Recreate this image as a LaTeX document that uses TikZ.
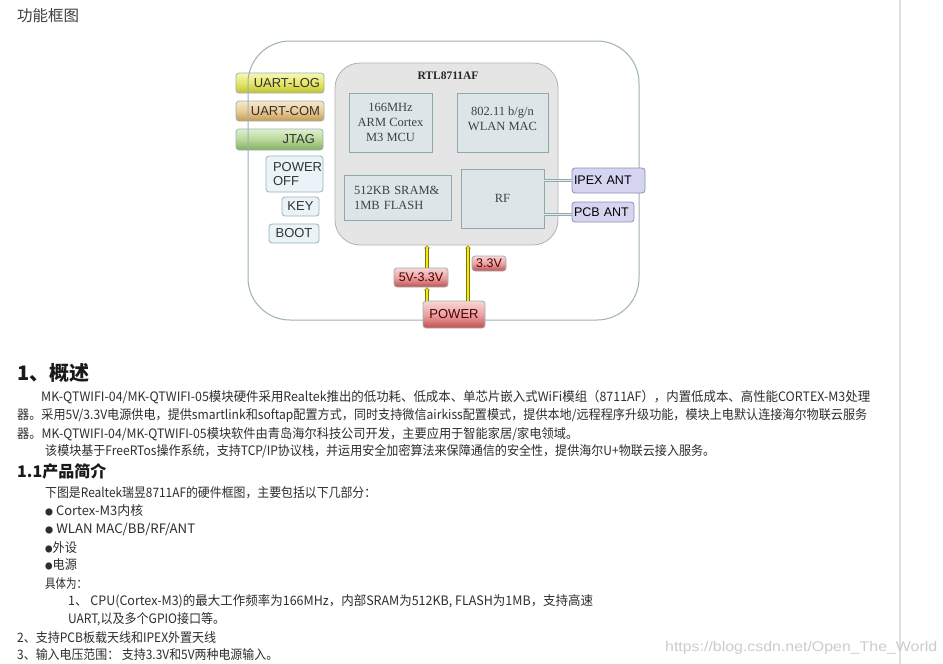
\documentclass[tikz,border=0pt]{standalone}
\usepackage{fontspec}
\setmainfont{Liberation Sans}
\newfontfamily\cjk{Noto Sans CJK SC}
\newfontfamily\serifrm{Liberation Serif}
\usetikzlibrary{arrows.meta}
\newcommand\fitw[2]{\resizebox{#1pt}{\height}{#2}}
\newcommand\bul{{\fontsize{8}{8}\selectfont ●}}
\definecolor{txt}{HTML}{2E2E2E}
\definecolor{bord}{HTML}{9DB2B3}
\definecolor{chipfill}{HTML}{DCE6E8}
\definecolor{chipbord}{HTML}{8FA9AB}
\definecolor{lav}{HTML}{D5D5F1}
\definecolor{lavb}{HTML}{8E8EB8}
\definecolor{lightb}{HTML}{EAF4F8}
\definecolor{ylt}{HTML}{F7F7B8}
\definecolor{ymd}{HTML}{E6E66A}
\definecolor{ybt}{HTML}{C2C232}
\definecolor{olt}{HTML}{F8E8CC}
\definecolor{omd}{HTML}{EACB98}
\definecolor{obt}{HTML}{C49A55}
\definecolor{glt}{HTML}{E0F0CE}
\definecolor{gmd}{HTML}{B8D89A}
\definecolor{gbt}{HTML}{82AE5E}
\definecolor{rlt}{HTML}{F8D6D6}
\definecolor{rmd}{HTML}{EAA2A2}
\definecolor{rbt}{HTML}{C25050}
\begin{document}
\begin{tikzpicture}[x=1pt,y=-1pt,
  para/.style={inner sep=0pt, anchor=west, text=txt, font=\cjk\fontsize{13}{13}\selectfont},
  chip/.style={draw=chipbord, fill=chipfill, line width=0.8pt, inner sep=0pt, text=black!75,
    font=\serifrm\fontsize{12.5}{15}\selectfont, align=center},
  lbl/.style={draw=bord, line width=0.8pt, rounded corners=3pt, inner sep=0pt, text=black!80,
    font=\fontsize{13}{14}\selectfont},
  ylw/.style={lbl, top color=ylt, bottom color=ybt, middle color=ymd},
  org/.style={lbl, top color=olt, bottom color=obt, middle color=omd},
  grn/.style={lbl, top color=glt, bottom color=gbt, middle color=gmd},
  blu/.style={lbl, fill=lightb},
  red/.style={lbl, top color=rlt, bottom color=rbt, middle color=rmd, text=red!30!black},
  ant/.style={lbl, fill=lav, draw=lavb, text=black},
  antl/.style={draw=chipbord, double=chipfill!70!white, double distance=1.8pt, line width=0.8pt},
  pwro/.style={draw=olive!85!black, line width=3.4pt, -{Triangle[width=6pt,length=3pt]}},
  pwri/.style={draw=yellow!95!black, line width=1.6pt, shorten >=0.8pt, -{Triangle[width=3.2pt,length=1.8pt]}}
]
\useasboundingbox (0,0) rectangle (943,664);
\fill[white] (0,0) rectangle (943,664);
\coordinate (dtop) at (900,0);
\coordinate (dbot) at (900,664);
\draw[black!12, line width=1.5pt] (dtop) -- (dbot);

\node[para, text=black!75, font=\cjk\fontsize{15.5}{15.5}\selectfont] (title) at (17,16) {功能框图};

% left signal boxes (under the outer frame)
\node[ylw, text width=80pt, inner xsep=4pt, minimum height=20pt, align=right] (ulog) at (280,83) {UART-LOG};
\node[org, text width=80pt, inner xsep=4pt, minimum height=20pt, align=right] (ucom) at (280,111) {UART-COM};
\node[grn, text width=71pt, inner xsep=8pt, minimum height=21pt, align=right] (jtag) at (279.5,139.5) {JTAG};

% outer frame
\node[draw=bord, line width=1pt, rounded corners=42pt, minimum width=391pt, minimum height=279pt] (outer) at (443.5,180.5) {};

% chip
\node[draw=black!30, fill=black!10, line width=0.8pt, rounded corners=25pt, minimum width=223pt, minimum height=182pt] (inner) at (446.5,154) {};
\node[inner sep=0pt, font=\serifrm\bfseries\fontsize{11.5}{12}\selectfont, text=black!85] (rtl) at (448,76) {RTL8711AF};
\node[chip, minimum width=83pt, minimum height=59pt] (cpu) at (390.5,122.5) {166MHz\\ARM Cortex\\M3 MCU};
\node[chip, minimum width=91pt, minimum height=59pt] (wlan) at (502.5,122.5) {};
\node[inner sep=0pt, text=black!75, font=\serifrm\fontsize{12.5}{15}\selectfont, align=center] (wlant) at (502.5,118.5) {802.11 b/g/n\\WLAN MAC};
\node[chip, text width=87pt, inner xsep=10pt, minimum height=45pt, align=left] (mem) at (397.5,197.5) {512KB SRAM\&\\1MB FLASH};
\node[chip, minimum width=83pt, minimum height=59pt] (rf) at (502.5,198.5) {RF};

% antennas
\node[ant, text width=69pt, inner xsep=2pt, minimum height=25pt, align=left, font=\fontsize{12.5}{13}\selectfont] (ipex) at (608.5,180.5) {IPEX ANT};
\node[ant, text width=58pt, inner xsep=2pt, minimum height=20pt, align=left, font=\fontsize{12.5}{13}\selectfont] (pcb) at (603,212) {PCB ANT};
\draw[antl] (rf.east |- ipex.west) -- (ipex.west);
\draw[antl] (rf.east |- 0,214.5) -- (pcb.west |- 0,214.5);

% peripherals
\node[blu, text width=43pt, inner xsep=7pt, minimum height=36pt, align=left] (poff) at (294.5,174) {POWER\\OFF};
\node[blu, minimum width=37pt, minimum height=19pt] (key) at (300.5,206.5) {KEY};
\node[blu, minimum width=50pt, minimum height=19pt] (boot) at (294,233.5) {BOOT};

% power
\node[red, minimum width=62pt, minimum height=27pt] (power) at (454,314.5) {POWER};
\node[red, minimum width=54pt, minimum height=19pt, font=\fontsize{12.5}{13}\selectfont] (v53) at (421,277.5) {5V-3.3V};
\node[red, minimum width=34pt, minimum height=15pt, font=\fontsize{12.5}{13}\selectfont] (v33) at (489,263.5) {3.3V};
\coordinate (axl) at (427,0);
\coordinate (axr) at (468,0);
\draw[pwro] (power.north -| axl) -- (v53.south -| axl);
\draw[pwri] (power.north -| axl) -- (v53.south -| axl);
\draw[pwro] (v53.north -| axl) -- (inner.south -| axl);
\draw[pwri] (v53.north -| axl) -- (inner.south -| axl);
\draw[pwro] (power.north -| axr) -- (inner.south -| axr);
\draw[pwri] (power.north -| axr) -- (inner.south -| axr);

% text
\node[para, font=\cjk\bfseries\fontsize{20}{20}\selectfont, text=black!90] (h1) at (17,373) {1、概述};
\node[para] (p1) at (41,397) {\fitw{829}{MK-QTWIFI-04/MK-QTWIFI-05模块硬件采用Realtek推出的低功耗、低成本、单芯片嵌入式WiFi模组（8711AF），内置低成本、高性能CORTEX-M3处理}};
\node[para] (p2) at (17,415.5) {\fitw{850}{器。采用5V/3.3V电源供电，提供smartlink和softap配置方式，同时支持微信airkiss配置模式，提供本地/远程程序升级功能，模块上电默认连接海尔物联云服务}};
\node[para] (p3) at (17,434) {\fitw{561}{器。MK-QTWIFI-04/MK-QTWIFI-05模块软件由青岛海尔科技公司开发，主要应用于智能家居/家电领域。}};
\node[para] (p4) at (45,451.5) {\fitw{670}{该模块基于FreeRTos操作系统，支持TCP/IP协议栈，并运用安全加密算法来保障通信的安全性，提供海尔U+物联云接入服务。}};
\node[para, font=\cjk\bfseries\fontsize{16}{16}\selectfont, text=black!90] (h2) at (17,471.5) {1.1产品简介};
\node[para] (q1) at (45,493) {\fitw{331}{下图是Realtek瑞昱8711AF的硬件框图，主要包括以下几部分：}};
\node[para] (q2) at (45,511) {\fitw{98}{\bul{} Cortex-M3内核}};
\node[para] (q3) at (45,529) {\fitw{150}{\bul{} WLAN MAC/BB/RF/ANT}};
\node[para] (q4) at (45,547.3) {\fitw{32}{\bul 外设}};
\node[para] (q5) at (45,565) {\fitw{32}{\bul 电源}};
\node[para] (q6) at (45,583.3) {\fitw{42}{具体为：}};
\node[para] (q7) at (68,601.7) {\fitw{525}{1、 CPU(Cortex-M3)的最大工作频率为166MHz，内部SRAM为512KB, FLASH为1MB，支持高速}};
\node[para] (q8) at (68,619.3) {\fitw{157}{UART,以及多个GPIO接口等。}};
\node[para] (q9) at (17,637.3) {\fitw{199}{2、支持PCB板载天线和IPEX外置天线}};
\node[para] (q10) at (17,655) {\fitw{261}{3、输入电压范围： 支持3.3V和5V两种电源输入。}};
\node[para, text=black!20, font=\fontsize{14}{14}\selectfont] (wm) at (665,648) {\fitw{272}{https://blog.csdn.net/Open\_The\_World}};
\end{tikzpicture}
\end{document}
